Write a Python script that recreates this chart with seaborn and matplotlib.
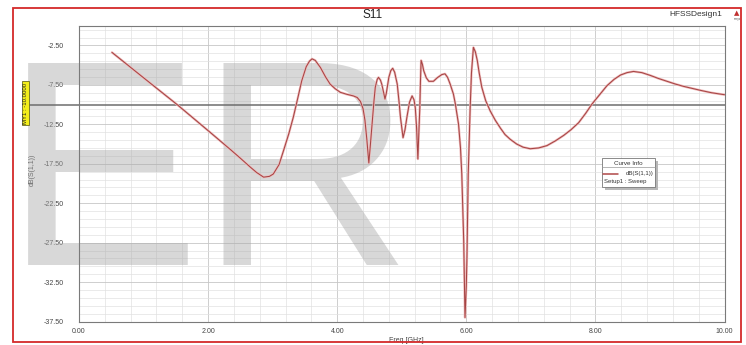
import matplotlib
matplotlib.use("Agg")
import matplotlib.pyplot as plt
import seaborn as sns
import numpy as np
import pandas as pd
from matplotlib.patches import Rectangle
from matplotlib.lines import Line2D

# ---------------- data ----------------
freq_ghz = [0.51, 1.00, 1.52, 2.00, 2.36, 2.50, 2.65, 2.75, 2.86, 2.95, 3.01, 3.10, 3.17,
            3.25, 3.32, 3.40, 3.45, 3.52, 3.57, 3.61, 3.66, 3.74, 3.82, 3.89, 3.97,
            4.05, 4.15, 4.25, 4.31, 4.36, 4.40, 4.43, 4.46, 4.49, 4.51, 4.54, 4.57,
            4.59, 4.62, 4.64, 4.67, 4.69, 4.72, 4.74, 4.76, 4.80, 4.83, 4.86, 4.89,
            4.93, 4.96, 4.98, 5.02, 5.05, 5.08, 5.12, 5.16, 5.19, 5.21, 5.23, 5.25,
            5.265, 5.28, 5.29, 5.30, 5.32, 5.34, 5.38, 5.42, 5.49, 5.55, 5.62, 5.67,
            5.71, 5.75, 5.80, 5.83, 5.88, 5.91, 5.93, 5.96, 5.98, 6.00, 6.01, 6.03,
            6.06, 6.08, 6.11, 6.14, 6.17, 6.20, 6.24, 6.30, 6.37, 6.45, 6.53, 6.60,
            6.68, 6.78, 6.88, 6.99, 7.12, 7.25, 7.38, 7.51, 7.62, 7.74, 7.85, 7.95,
            8.07, 8.18, 8.29, 8.39, 8.49, 8.59, 8.72, 8.85, 8.98, 9.11, 9.24, 9.37,
            9.50, 9.63, 9.80, 10.00]
s11_db = [-3.38, -6.6, -10.0, -13.3, -15.8, -16.8, -17.9, -18.6, -19.2, -19.1, -18.8, -17.6, -15.8,
          -13.7, -11.6, -8.8, -7.0, -5.2, -4.5, -4.2, -4.4, -5.3, -6.5, -7.4, -8.0,
          -8.45, -8.7, -8.9, -9.1, -9.6, -10.5, -12.0, -14.5, -17.4, -15.5, -12.5, -9.5,
          -7.8, -6.8, -6.55, -6.9, -7.4, -8.5, -9.3, -8.6, -6.55, -5.7, -5.4, -5.9,
          -7.4, -9.8, -11.6, -14.2, -13.2, -11.6, -9.7, -8.9, -9.4, -10.4, -13.0, -16.9,
          -13.5, -10.4, -7.0, -4.4, -4.9, -5.7, -6.6, -7.05, -7.05, -6.6, -6.2, -6.1,
          -6.55, -7.4, -8.66, -9.9, -12.5, -15.5, -18.8, -27.3, -37.0, -33.0, -29.4, -18.8,
          -10.4, -6.0, -2.75, -3.3, -4.4, -6.0, -7.8, -9.5, -10.8, -12.0, -13.0, -13.8,
          -14.4, -15.0, -15.4, -15.6, -15.5, -15.2, -14.6, -13.9, -13.2, -12.3, -11.1, -9.9,
          -8.7, -7.6, -6.8, -6.25, -5.95, -5.8, -5.95, -6.3, -6.7, -7.05, -7.4, -7.7,
          -7.95, -8.2, -8.5, -8.75]
marker_db = -10.0
x_major_ticks = [0, 2, 4, 6, 8, 10]
y_major_ticks = [-37.5, -32.5, -27.5, -22.5, -17.5, -12.5, -7.5, -2.5]

df = pd.DataFrame({"Freq": freq_ghz, "dB": s11_db})

# ---------------- figure ----------------
sns.set_style("white")
plt.rcParams["font.family"] = ["Liberation Sans", "DejaVu Sans"]

W, H = 746, 345
fig = plt.figure(figsize=(W / 100, H / 100), dpi=100, facecolor="white")

def fx(px):
    return px / W

def fy(py):
    return 1 - py / H

ax_l, ax_r, ax_t, ax_b = 79, 724.5, 25.7, 321.5
ax = fig.add_axes([fx(ax_l), fy(ax_b), fx(ax_r) - fx(ax_l), fy(ax_t) - fy(ax_b)])
ax.set_facecolor("white")

# watermark letters
ax.text(fx(4), fy(265), "ER", transform=fig.transFigure, fontsize=212,
        family="Liberation Sans", color="#a9a9a9", alpha=0.45, ha="left",
        va="baseline", clip_on=False, zorder=1.5)

# curve (soft halo + core)
sns.lineplot(data=df, x="Freq", y="dB", ax=ax, color="#efbcbc", linewidth=1.7,
             sort=False, zorder=3, legend=False)
sns.lineplot(data=df, x="Freq", y="dB", ax=ax, color="#a64444", linewidth=0.75,
             sort=False, zorder=4, legend=False)

# marker line
ax.axhline(marker_db, xmin=(29 - ax_l) / (ax_r - ax_l), xmax=1, color="#6e6e6e",
           linewidth=1.1, clip_on=False, zorder=2.5)

ax.set_xlim(0, 10)
ax.set_ylim(-37.5, 0)
ax.set_xticks(x_major_ticks)
ax.set_xticks(np.arange(0, 10.001, 0.4), minor=True)
ax.set_yticks(y_major_ticks)
ax.set_yticks(np.arange(-37.5, 0, 1.0), minor=True)
ax.set_xticklabels([f"{v:.2f}" for v in x_major_ticks])
ax.set_yticklabels([f"{v:.2f}" for v in y_major_ticks])

ax.grid(which="major", color="#c6c6c6", linewidth=0.6, zorder=0)
ax.grid(which="minor", color="#e1e1e1", linewidth=0.5, zorder=0)
ax.set_axisbelow(True)

ax.tick_params(which="major", direction="out", length=5, width=0.6, color="#555555",
               labelsize=5, labelcolor="#444444", pad=4)
ax.tick_params(which="minor", direction="out", length=2.5, width=0.5, color="#555555")
ax.tick_params(axis="y", which="major", pad=6)
ax.tick_params(axis="x", which="major", length=3, pad=1.5)
ax.tick_params(axis="x", which="minor", length=2)
for s in ax.spines.values():
    s.set_color("#7a7a7a")
    s.set_linewidth(0.8)

ax.set_xlabel("Freq [GHz]", fontsize=5, color="#444444")
ax.set_ylabel("dB(S(1,1))", fontsize=5, color="#444444")
ax.xaxis.set_label_coords((406 - ax_l) / (ax_r - ax_l), (ax_b - 336.7) / (ax_b - ax_t))
ax.yaxis.set_label_coords((36 - ax_l) / (ax_r - ax_l), (ax_b - 170) / (ax_b - ax_t))

# titles
fig.text(fx(373), fy(15), "S11", fontsize=8.5, ha="center", va="center", color="#222222")
fig.text(fx(722), fy(15), "HFSSDesign1", fontsize=6, ha="right", va="center", color="#333333")
fig.text(fx(737), fy(13), "▲", fontsize=5, ha="center", va="center", color="#c03030",
         family="DejaVu Sans")
fig.text(fx(737), fy(19), "ansys", fontsize=2, ha="center", va="center", color="#555555")

# marker label
fig.text(fx(25.5), fy(103), "MY1 : -10.0000", rotation=90, fontsize=4.3, ha="center",
         va="center", color="#222222",
         bbox=dict(boxstyle="square,pad=0.25", facecolor="#f3ee1a", edgecolor="#6b6b20",
                   linewidth=0.6))

# curve info box
def axx(px):
    return (px - ax_l) / (ax_r - ax_l)

def axy(py):
    return (ax_b - py) / (ax_b - ax_t)

bx0, bx1, by0, by1 = 601.7, 655, 158, 186.7
ax.add_patch(Rectangle((axx(bx0 + 3), axy(by1 + 3)), axx(bx1) - axx(bx0), axy(by0) - axy(by1),
                       transform=ax.transAxes, facecolor="#b8b8b8", edgecolor="none",
                       zorder=5, clip_on=False))
ax.add_patch(Rectangle((axx(bx0), axy(by1)), axx(bx1) - axx(bx0), axy(by0) - axy(by1),
                       transform=ax.transAxes, facecolor="white", edgecolor="#777777",
                       linewidth=0.6, zorder=6, clip_on=False))
ax.add_line(Line2D([axx(bx0), axx(bx1)], [axy(167), axy(167)], transform=ax.transAxes,
                   color="#999999", linewidth=0.5, zorder=7))
ax.text(axx(628), axy(163), "Curve Info", transform=ax.transAxes, fontsize=4.5,
        ha="center", va="center", color="#333333", zorder=7)
ax.add_line(Line2D([axx(603), axx(618)], [axy(174), axy(174)], transform=ax.transAxes,
                   color="#b04848", linewidth=1.1, zorder=7))
ax.text(axx(654), axy(174), "dB(S(1,1))", transform=ax.transAxes, fontsize=4.3,
        ha="right", va="center", color="#333333", zorder=7)
ax.text(axx(604), axy(181), "Setup1 : Sweep", transform=ax.transAxes, fontsize=4.3,
        ha="left", va="center", color="#333333", zorder=7)

# red outer frame
fig.patches.append(Rectangle((fx(13), fy(342)), fx(741) - fx(13), fy(8) - fy(342),
                             transform=fig.transFigure, facecolor="none",
                             edgecolor="#d42a2a", linewidth=1.3, zorder=10))

fig.savefig("out.png", dpi=100)
